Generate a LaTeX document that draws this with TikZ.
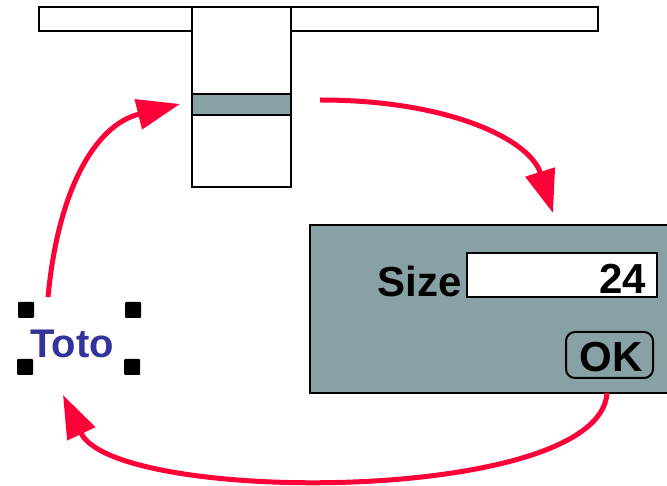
\documentclass[tikz,border=0pt]{standalone}
\usepackage{fontspec}
\setmainfont{Liberation Sans}
\usetikzlibrary{arrows.meta}
\definecolor{dlg}{HTML}{87A1A4}
\definecolor{arrred}{HTML}{FF0038}
\definecolor{totoblue}{HTML}{333399}
\tikzset{
  outline/.style={draw=black,line width=2pt},
  handle/.style={fill=black,minimum size=16pt,inner sep=0pt,rounded corners=1pt},
  flow/.style={draw=arrred,line width=5pt,-{Triangle[length=43pt,width=30pt]}},
  big/.style={font=\fontsize{42}{42}\selectfont\bfseries,inner sep=0pt}
}
\begin{document}
\begin{tikzpicture}[x=1pt,y=-1pt]
\useasboundingbox (0,0) rectangle (667,486);
% top bar and column
\draw[outline,fill=white] (39,7) rectangle (598,31);
\draw[outline,fill=white] (192,7) rectangle (291,187);
\draw[outline,fill=dlg] (192,94) rectangle (291,115);
\coordinate (bandR) at (320,100);
\coordinate (bandL) at (180,104);
% dialog
\fill[dlg] (310,225) rectangle (667,393);
\draw[outline] (667,225) -- (310,225) -- (310,393) -- (667,393);
\draw[outline,fill=white] (467,253) rectangle (657,297);
\node[big,anchor=base east] (size) at (462,297) {Size};
\node[big,anchor=base east] (val) at (646,294) {24};
\node[outline,rounded corners=9pt,minimum width=87pt,minimum height=46pt,inner sep=0pt] (ok) at (609.5,355) {};
\node[big,anchor=base] (oktext) at (611,372) {OK};
\coordinate (dlgtop) at (553,213);
\coordinate (dlgbot) at (607,393);
% Toto
\node[font=\fontsize{40}{40}\selectfont\bfseries,text=totoblue,inner sep=0pt] (toto) at (72,344) {Toto};
\node[handle] (h1) at (26,310) {};
\node[handle] (h2) at (133,310) {};
\node[handle] (h3) at (25,367) {};
\node[handle] (h4) at (132,367) {};
\coordinate (totostart) at (48,297);
\coordinate (totoend) at (63,395);
% arrows
\draw[flow] (totostart) .. controls (58,190) and (95,125) .. (bandL);
\draw[flow] (bandR) .. controls (450,100) and (530,140) .. (dlgtop);
\draw[flow] (dlgbot) .. controls (600,505) and (115,505) .. (totoend);
\end{tikzpicture}
\end{document}
